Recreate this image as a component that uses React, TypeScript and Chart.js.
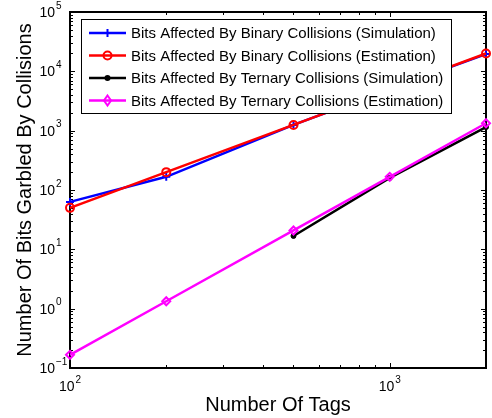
import React, { useEffect, useRef } from "react";
import { Chart, registerables } from "chart.js";
Chart.register(...registerables);

const tags = [100, 200, 500, 1000, 2000];
const binarySim = [63, 167, 1250, 5000, 19500];
const binaryEst = [50, 200, 1250, 5000, 20000];
const ternarySim: (number | null)[] = [null, null, 16.8, 160, 1150];
const ternaryEst = [0.1667, 1.333, 20.8, 166.7, 1333];
const seriesLabels = [
  "Bits Affected By Binary Collisions (Simulation)",
  "Bits Affected By Binary Collisions (Estimation)",
  "Bits Affected By Ternary Collisions (Simulation)",
  "Bits Affected By Ternary Collisions (Estimation)",
];
const seriesColors = ["#0000ff", "#ff0000", "#000000", "#ff00ff"];
const seriesMarkers = ["cross", "circle", "dot", "rectRot"];
const yTickExps = [-1, 0, 1, 2, 3, 4, 5];
const xTickExps = [2, 3];
const xTitle = "Number Of Tags";
const yTitle = "Number Of Bits Garbled By Collisions";

const FONT = "Arial, 'Liberation Sans', sans-serif";

function drawMarker(ctx: CanvasRenderingContext2D, kind: string, x: number, y: number, color: string) {
  ctx.save();
  ctx.strokeStyle = color;
  ctx.fillStyle = color;
  ctx.lineWidth = 2;
  ctx.beginPath();
  if (kind === "cross") {
    ctx.moveTo(x - 4, y); ctx.lineTo(x + 4, y);
    ctx.moveTo(x, y - 4); ctx.lineTo(x, y + 4);
    ctx.stroke();
  } else if (kind === "circle") {
    ctx.arc(x, y, 4, 0, Math.PI * 2);
    ctx.stroke();
  } else if (kind === "dot") {
    ctx.arc(x, y, 3, 0, Math.PI * 2);
    ctx.fill();
  } else {
    ctx.moveTo(x, y - 5); ctx.lineTo(x + 3.5, y); ctx.lineTo(x, y + 5); ctx.lineTo(x - 3.5, y); ctx.closePath();
    ctx.stroke();
  }
  ctx.restore();
}

const axesPlugin = {
  id: "matlabAxes",
  beforeDatasetsDraw(chart: any) {
    const { ctx, chartArea: a, scales } = chart;
    const xs = scales.x, ys = scales.y;
    ctx.save();
    ctx.strokeStyle = "#000";
    ctx.lineWidth = 1;
    ctx.beginPath();
    for (let k = -1; k <= 5; k++) {
      for (let m = 1; m <= 9; m++) {
        const v = m * Math.pow(10, k);
        if (v < 0.1 - 1e-9 || v > 1e5 + 1e-6) continue;
        const py = Math.round(ys.getPixelForValue(v)) + 0.5;
        const len = m === 1 ? 5 : 3;
        ctx.moveTo(a.left, py); ctx.lineTo(a.left + len, py);
        ctx.moveTo(a.right, py); ctx.lineTo(a.right - len, py);
      }
    }
    for (let k = 2; k <= 3; k++) {
      for (let m = 1; m <= 9; m++) {
        const v = m * Math.pow(10, k);
        if (v > 2000 + 1e-6) continue;
        const px = Math.round(xs.getPixelForValue(v)) + 0.5;
        const len = m === 1 ? 5 : 3;
        ctx.moveTo(px, a.bottom); ctx.lineTo(px, a.bottom - len);
        ctx.moveTo(px, a.top); ctx.lineTo(px, a.top + len);
      }
    }
    ctx.stroke();
    ctx.lineWidth = 2;
    ctx.strokeRect(a.left, a.top, a.right - a.left, a.bottom - a.top);
    ctx.restore();
  },
  afterDatasetsDraw(chart: any) {
    const { ctx, chartArea: a, scales } = chart;
    const xs = scales.x, ys = scales.y;
    ctx.save();
    ctx.fillStyle = "#000";
    // y tick labels
    for (const e of yTickExps) {
      const py = ys.getPixelForValue(Math.pow(10, e));
      ctx.font = `14px ${FONT}`;
      ctx.textAlign = "right";
      ctx.textBaseline = "middle";
      ctx.fillText("10", a.left - 15, py + 1);
      ctx.font = `10px ${FONT}`;
      ctx.textAlign = "left";
      ctx.fillText(e < 0 ? "\u2212" + Math.abs(e) : String(e), a.left - 14, py - 6);
    }
    // x tick labels
    for (const e of xTickExps) {
      const px = xs.getPixelForValue(Math.pow(10, e));
      ctx.font = `14px ${FONT}`;
      ctx.textBaseline = "middle";
      const w1 = ctx.measureText("10").width;
      ctx.font = `10px ${FONT}`;
      const sup = String(e);
      const w2 = ctx.measureText(sup).width;
      const start = px - (w1 + 1 + w2) / 2;
      ctx.font = `14px ${FONT}`;
      ctx.textAlign = "left";
      ctx.fillText("10", start, a.bottom + 19);
      ctx.font = `10px ${FONT}`;
      ctx.fillText(sup, start + w1 + 1, a.bottom + 12);
    }
    // axis titles
    ctx.font = `20px ${FONT}`;
    ctx.textAlign = "center";
    ctx.textBaseline = "middle";
    ctx.fillText(xTitle, (a.left + a.right) / 2, a.bottom + 37);
    ctx.save();
    ctx.translate(25, (a.top + a.bottom) / 2);
    ctx.rotate(-Math.PI / 2);
    ctx.fillText(yTitle, 0, 0);
    ctx.restore();
    // legend
    const lx = 81, ly = 19, lw = 370, lh = 94;
    ctx.fillStyle = "#fff";
    ctx.fillRect(lx, ly, lw, lh);
    ctx.strokeStyle = "#000";
    ctx.lineWidth = 1;
    ctx.strokeRect(lx + 0.5, ly + 0.5, lw, lh);
    const rows = [33, 55.5, 78, 100.5];
    seriesLabels.forEach((lab, i) => {
      const ry = rows[i];
      ctx.strokeStyle = seriesColors[i];
      ctx.lineWidth = 2.5;
      ctx.beginPath();
      ctx.moveTo(89, ry); ctx.lineTo(126, ry);
      ctx.stroke();
      drawMarker(ctx, seriesMarkers[i], 107.5, ry, seriesColors[i]);
      ctx.fillStyle = "#000";
      ctx.font = `15px ${FONT}`;
      ctx.textAlign = "left";
      ctx.textBaseline = "middle";
      ctx.fillText(lab, 131, ry + 1);
    });
    ctx.restore();
  },
};

export default function App() {
  const ref = useRef<HTMLCanvasElement | null>(null);
  useEffect(() => {
    if (!ref.current) return;
    const mk = (vals: (number | null)[]) => tags.map((t, i) => ({ x: t, y: vals[i] }));
    const chart = new Chart(ref.current, {
      type: "line",
      data: {
        datasets: [
          {
            label: seriesLabels[0], data: mk(binarySim) as any, borderColor: seriesColors[0], backgroundColor: seriesColors[0],
            borderWidth: 2.5, pointStyle: "cross", pointRadius: 4, pointBorderWidth: 2, order: 3, clip: false as any,
          },
          {
            label: seriesLabels[1], data: mk(binaryEst) as any, borderColor: seriesColors[1], backgroundColor: "rgba(0,0,0,0)",
            borderWidth: 2.5, pointStyle: "circle", pointRadius: 4, pointBorderWidth: 2, order: 2, clip: false as any,
          },
          {
            label: seriesLabels[2], data: mk(ternarySim) as any, borderColor: seriesColors[2], backgroundColor: seriesColors[2],
            borderWidth: 2.5, pointStyle: "circle", pointRadius: 2.5, pointBorderWidth: 1, order: 1, clip: false as any,
          },
          {
            label: seriesLabels[3], data: mk(ternaryEst) as any, borderColor: seriesColors[3], backgroundColor: "rgba(0,0,0,0)",
            borderWidth: 2.5, pointStyle: "rectRot", pointRadius: 4, pointBorderWidth: 2, order: 0, clip: false as any,
          },
        ],
      },
      options: {
        animation: false,
        responsive: false,
        layout: { padding: { left: 70, right: 4, top: 12, bottom: 50 } },
        plugins: { legend: { display: false }, tooltip: { enabled: false } },
        elements: { line: { tension: 0 } },
        scales: {
          x: { type: "logarithmic", min: 100, max: 2000, display: false },
          y: { type: "logarithmic", min: 0.1, max: 100000, display: false },
        },
      },
      plugins: [axesPlugin],
    });
    return () => chart.destroy();
  }, []);
  return (
    <div style={{ position: "fixed", left: 0, top: 0, width: 492, height: 418, background: "#fff" }}>
      <canvas ref={ref} width={492} height={418} style={{ display: "block" }} />
    </div>
  );
}
